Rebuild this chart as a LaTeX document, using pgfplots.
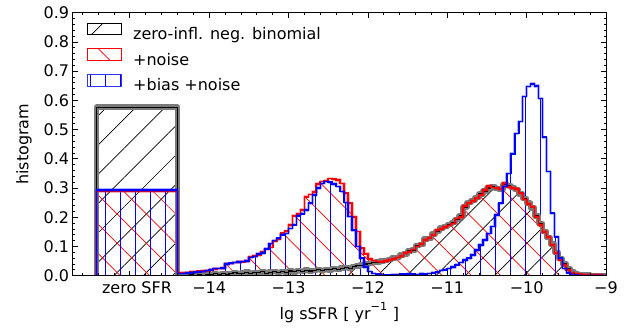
\documentclass[border=0pt]{standalone}
\usepackage{fontspec}
\setmainfont{DejaVu Sans}
\usepackage{pgfplots}
\pgfplotsset{compat=1.18}
\usepackage{pgfplotstable}
\usetikzlibrary{patterns.meta}

\pgfplotstableread{
x blk red blu
-15.42 0 0 0
-15.42 0.577 0.288 0.293
-14.40 0.000 0.010 0.008
-14.35 0.002 0.010 0.008
-14.30 0.000 0.011 0.009
-14.25 0.003 0.012 0.010
-14.20 0.001 0.013 0.012
-14.15 0.004 0.015 0.013
-14.10 0.002 0.016 0.014
-14.05 0.005 0.017 0.018
-14.00 0.003 0.020 0.020
-13.95 0.006 0.023 0.024
-13.90 0.004 0.025 0.025
-13.85 0.007 0.026 0.026
-13.80 0.005 0.040 0.040
-13.75 0.008 0.042 0.043
-13.70 0.010 0.045 0.045
-13.65 0.006 0.047 0.047
-13.60 0.009 0.048 0.048
-13.55 0.012 0.050 0.050
-13.50 0.008 0.065 0.062
-13.45 0.011 0.068 0.066
-13.40 0.010 0.070 0.075
-13.35 0.013 0.082 0.078
-13.30 0.009 0.090 0.092
-13.25 0.012 0.097 0.110
-13.20 0.015 0.118 0.120
-13.15 0.011 0.124 0.128
-13.10 0.014 0.145 0.140
-13.05 0.012 0.152 0.145
-13.00 0.016 0.174 0.162
-12.95 0.013 0.205 0.174
-12.90 0.017 0.212 0.205
-12.85 0.015 0.225 0.212
-12.80 0.019 0.270 0.225
-12.75 0.016 0.278 0.248
-12.70 0.018 0.287 0.276
-12.65 0.021 0.314 0.300
-12.60 0.017 0.322 0.316
-12.55 0.022 0.326 0.322
-12.50 0.020 0.333 0.320
-12.45 0.024 0.330 0.314
-12.40 0.021 0.327 0.305
-12.35 0.026 0.316 0.288
-12.30 0.028 0.282 0.250
-12.25 0.025 0.248 0.202
-12.20 0.031 0.202 0.156
-12.15 0.034 0.151 0.100
-12.10 0.036 0.094 0.060
-12.05 0.040 0.075 0.030
-12.00 0.042 0.057 0.014
-11.95 0.045 0.052 0.008
-11.90 0.047 0.049 0.005
-11.85 0.050 0.048 0.003
-11.80 0.052 0.050 0.002
-11.75 0.055 0.054 0.002
-11.70 0.060 0.058 0.003
-11.65 0.063 0.062 0.004
-11.60 0.070 0.067 0.005
-11.55 0.075 0.077 0.005
-11.50 0.085 0.082 0.006
-11.45 0.088 0.090 0.005
-11.40 0.103 0.100 0.004
-11.35 0.106 0.108 0.006
-11.30 0.125 0.122 0.005
-11.25 0.128 0.130 0.008
-11.20 0.142 0.139 0.010
-11.15 0.152 0.156 0.012
-11.10 0.163 0.160 0.018
-11.05 0.168 0.166 0.020
-11.00 0.175 0.172 0.025
-10.95 0.182 0.179 0.030
-10.90 0.193 0.196 0.037
-10.85 0.205 0.200 0.045
-10.80 0.235 0.238 0.054
-10.75 0.250 0.248 0.060
-10.70 0.258 0.255 0.071
-10.65 0.268 0.265 0.088
-10.60 0.280 0.275 0.105
-10.55 0.290 0.293 0.122
-10.50 0.300 0.307 0.145
-10.45 0.305 0.302 0.168
-10.40 0.298 0.300 0.208
-10.35 0.295 0.297 0.248
-10.30 0.312 0.318 0.305
-10.25 0.308 0.304 0.350
-10.20 0.302 0.300 0.417
-10.15 0.295 0.297 0.487
-10.10 0.280 0.282 0.527
-10.05 0.265 0.261 0.613
-10.00 0.248 0.245 0.647
-9.95 0.232 0.236 0.656
-9.90 0.205 0.202 0.649
-9.85 0.178 0.174 0.607
-9.80 0.152 0.150 0.474
-9.75 0.130 0.133 0.356
-9.70 0.108 0.105 0.214
-9.65 0.080 0.077 0.133
-9.60 0.058 0.054 0.060
-9.55 0.040 0.037 0.025
-9.50 0.024 0.020 0.010
-9.45 0.012 0.010 0.004
-9.40 0.006 0.007 0.002
-9.35 0.004 0.005 0.001
-9.30 0.003 0.004 0.001
-9.25 0.002 0.003 0.001
-9.20 0.001 0.003 0.000
-9.15 0.001 0.002 0.000
-9.10 0.000 0.002 0.000
-9.05 0.000 0.001 0.000
-9.00 0 0 0
}\hist

\begin{document}
\begin{tikzpicture}
\useasboundingbox (-72.7pt,-55.3pt) rectangle (564.3pt,275.7pt);
\begin{axis}[
  at={(0pt,0pt)}, anchor=south west,
  width=533.3pt, height=263pt, scale only axis,
  xmin=-15.72, xmax=-9, ymin=0, ymax=0.9,
  axis on top,
  xtick={-15,-14,-13,-12,-11,-10,-9},
  xticklabels={,−14,−13,−12,−11,−10,−9},
  minor xtick={-15.6,-15.4,-15.2,-14.8,-14.6,-14.4,-14.2,-13.8,-13.6,-13.4,-13.2,-12.8,-12.6,-12.4,-12.2,-11.8,-11.6,-11.4,-11.2,-10.8,-10.6,-10.4,-10.2,-9.8,-9.6,-9.4,-9.2},
  ytick={0,0.1,0.2,0.3,0.4,0.5,0.6,0.7,0.8,0.9},
  yticklabels={0.0,0.1,0.2,0.3,0.4,0.5,0.6,0.7,0.8,0.9},
  minor y tick num=4,
  extra x ticks={-14.91},
  extra x tick labels={zero SFR},
  extra x tick style={major tick length=0pt},
  tick align=inside,
  major tick length=5pt, minor tick length=2.5pt,
  every tick/.style={black, line width=0.8pt},
  axis line style={line width=1pt},
  tick label style={font=\fontsize{16}{19}\selectfont},
  xticklabel style={anchor=base, yshift=-17.6pt},
  xlabel={$\lg$ sSFR [ yr\textsuperscript{−1} ]},
  ylabel={histogram},
  every axis x label/.style={at={(axis description cs:0.5,-0.166)}, anchor=base, font=\fontsize{16}{19}\selectfont},
  every axis y label/.style={at={(axis description cs:-0.0913,0.5)}, rotate=90, anchor=center, font=\fontsize{16}{19}\selectfont},
  legend style={draw=none, fill=none, at={(axis description cs:0.0268,0.962)}, anchor=north west,
    font=\fontsize{16}{19}\selectfont, row sep=3.5pt, inner sep=0pt,
    nodes={inner sep=2pt, text height=12.5pt, text depth=3.5pt},
    /tikz/every odd column/.append style={column sep=9pt}},
  legend cell align=left,
]
% fills
\addplot[const plot, mark=none, draw=none, pattern={Lines[angle=45,distance=20.7pt,line width=0.7pt]}, pattern color=black, forget plot] table[x=x,y=blk]{\hist} \closedcycle;
\addplot[const plot, mark=none, draw=none, pattern={Lines[angle=-45,distance=20.7pt,line width=0.7pt]}, pattern color=red, forget plot] table[x=x,y=red]{\hist} \closedcycle;
\addplot[const plot, mark=none, draw=none, pattern={Lines[angle=90,distance=15pt,line width=0.8pt]}, pattern color=blue, forget plot] table[x=x,y=blu]{\hist} \closedcycle;
% outlines
\addplot[const plot, mark=none, draw=black!52, line width=5.5pt, line join=round, forget plot] table[x=x,y=blk]{\hist};
\addplot[const plot, mark=none, draw=black, line width=1.1pt, forget plot] table[x=x,y=blk]{\hist};
\addplot[const plot, mark=none, draw=red, opacity=0.3, line width=3.4pt, line join=round, forget plot] table[x=x,y=red]{\hist};
\addplot[const plot, mark=none, draw=red, line width=1.7pt, forget plot] table[x=x,y=red]{\hist};
\addplot[const plot, mark=none, draw=blue, opacity=0.3, line width=3.2pt, line join=round, forget plot] table[x=x,y=blu]{\hist};
\addplot[const plot, mark=none, draw=blue, line width=1.6pt, forget plot] table[x=x,y=blu]{\hist};
% legend
\addlegendimage{legend image code/.code={\draw[black, line width=1pt, pattern={Lines[angle=45,distance=20.7pt,line width=0.7pt]}, pattern color=black] (0pt,0pt) rectangle (34pt,11.6pt);}}
\addlegendentry{zero-infl. neg. binomial}
\addlegendimage{legend image code/.code={\draw[red, line width=1pt, pattern={Lines[angle=-45,distance=20.7pt,line width=0.7pt]}, pattern color=red] (0pt,0pt) rectangle (34pt,11.6pt);}}
\addlegendentry{+noise}
\addlegendimage{legend image code/.code={\draw[blue!80, line width=1pt, pattern={Lines[angle=90,distance=15pt,line width=0.8pt]}, pattern color=blue] (0pt,0pt) rectangle (34pt,11.6pt);}}
\addlegendentry{+bias +noise}
\end{axis}
\end{tikzpicture}
\end{document}
